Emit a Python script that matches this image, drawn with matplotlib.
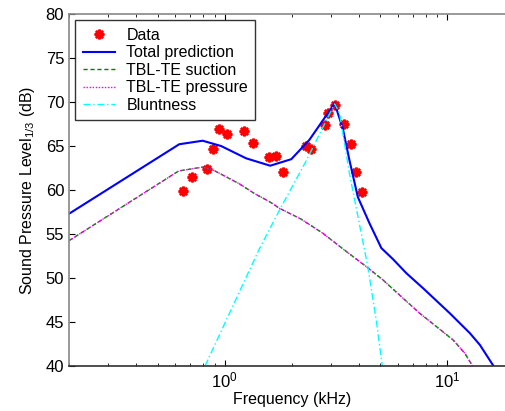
import matplotlib
matplotlib.use("Agg")
import matplotlib.pyplot as plt
from matplotlib.ticker import LogLocator, NullFormatter

plt.rcParams["font.family"] = ["Liberation Sans", "DejaVu Sans"]
plt.rcParams["mathtext.fontset"] = "custom"
plt.rcParams["mathtext.rm"] = "Liberation Sans"

# measured 1/3-octave data (kHz, dB)
data_f = [0.647, 0.714, 0.833, 0.887, 0.940, 1.028, 1.218, 1.346, 1.589, 1.703,
          1.831, 2.307, 2.437, 2.817, 2.918, 3.116, 3.43, 3.704, 3.90, 4.12]
data_db = [59.9, 61.5, 62.4, 64.7, 66.9, 66.4, 66.7, 65.3, 63.7, 63.9,
           62.0, 65.0, 64.7, 67.35, 68.7, 69.7, 67.45, 65.2, 62.1, 59.8]

# total prediction
total_f = [0.2, 0.625, 0.796, 0.963, 1.248, 1.6, 1.99, 2.40, 3.116, 3.39, 3.63,
           3.96, 4.47, 5.05, 5.70, 6.55, 7.78, 10.25, 12.62, 13.99, 16.1]
total_db = [57.3, 65.2, 65.6, 65.0, 63.6, 62.76, 63.5, 65.7, 69.85, 67.0, 63.4,
            59.2, 56.2, 53.4, 52.13, 50.53, 48.83, 45.99, 43.72, 42.39, 40.0]

# TBL-TE suction / pressure (overlapping)
tbl_f = [0.2, 0.621, 0.796, 0.883, 1.015, 1.164, 1.36, 1.59, 1.762, 2.2, 2.76,
         3.52, 4.33, 5.14, 6.32, 7.51, 8.93, 10.61, 11.97, 12.97]
tbl_db = [54.24, 62.16, 62.6, 62.3, 61.5, 60.7, 59.6, 58.67, 57.92, 56.7, 55.08,
          53.0, 51.28, 49.77, 47.7, 45.99, 44.47, 42.95, 41.44, 40.0]

# bluntness
blunt_f = [0.816, 1.43, 1.795, 2.32, 3.116, 3.28, 3.63, 4.02, 4.39, 4.79, 5.1]
blunt_db = [40.0, 53.3, 58.1, 63.3, 69.8, 68.7, 61.9, 56.2, 51.3, 45.2, 40.0]

fig = plt.figure(figsize=(5.05, 4.11), dpi=100)
ax = fig.add_axes([69 / 505, 1 - 366 / 411, 445.5 / 505, 352 / 411])

ax.plot(data_f, data_db, linestyle="none", marker=(8, 2, 0), color="red",
        markersize=7, markeredgewidth=1.8, label="Data")
ax.plot(total_f, total_db, color="#0000ff", lw=1.5, label="Total prediction")
ax.plot(tbl_f, tbl_db, color="#008000", lw=1.0, ls=(0, (3, 2)), label="TBL-TE suction")
ax.plot(tbl_f, tbl_db, color="#ff00ff", lw=1.0, ls=(0, (1, 1.2)), label="TBL-TE pressure")
ax.plot(blunt_f, blunt_db, color="#00ffff", lw=1.0, ls=(0, (5, 2, 1, 2)), label="Bluntness")

ax.set_xscale("log")
ax.set_xlim(0.2, 20)
ax.set_ylim(40, 80)
ax.set_yticks(range(40, 81, 5))
ax.xaxis.set_major_locator(LogLocator(base=10))
ax.xaxis.set_minor_locator(LogLocator(base=10, subs=range(2, 10)))
ax.xaxis.set_minor_formatter(NullFormatter())
ax.tick_params(which="both", direction="in", top=True, right=True, labelsize=12)
ax.tick_params(which="major", length=4)
ax.tick_params(which="minor", length=2.5)
for name, s in ax.spines.items():
    s.set_color("#303030" if name == "bottom" else "#888888")
    s.set_linewidth(1.2)

ax.set_xlabel("Frequency (kHz)", fontsize=11.5, labelpad=1)
ax.set_ylabel("Sound Pressure Level$_{1/3}$ (dB)", fontsize=11.5, labelpad=6)

leg = ax.legend(loc="upper left", fontsize=11.5, frameon=True, fancybox=False,
                edgecolor="black", borderaxespad=0.4, handlelength=2.0,
                labelspacing=0.16, borderpad=0.45, handletextpad=0.75)
leg.get_frame().set_linewidth(1.0)

fig.savefig("out.png", dpi=100)
